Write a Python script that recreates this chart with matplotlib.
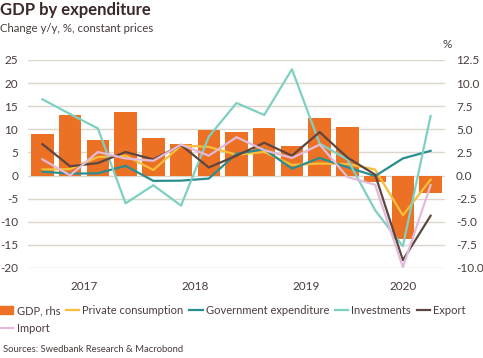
import numpy as np
import matplotlib
matplotlib.use("Agg")
import matplotlib.pyplot as plt
from matplotlib.patches import Patch
from matplotlib.lines import Line2D

plt.rcParams['font.family'] = ['Lato', 'DejaVu Sans']
plt.rcParams['axes.unicode_minus'] = False

# quarterly data, 2017Q1 .. 2020Q3
quarters = list(range(15))
year_labels = ["2017", "2018", "2019", "2020"]
year_pos = [1.5, 5.5, 9.5, 13.0]

gdp_rhs = [4.5, 6.55, 3.8, 6.85, 4.1, 3.4, 4.9, 4.75, 5.1, 3.2, 6.2, 5.25, -0.7, -6.85, -1.9]
private = [1.3, 1.4, 4.0, 4.3, 1.2, 6.5, 6.2, 4.5, 5.1, 2.3, 2.6, 2.5, 1.3, -8.6, -0.9]
government = [0.85, 0.4, 0.5, 2.1, -1.15, -1.1, -0.65, 4.7, 5.7, 1.5, 3.8, 1.8, -0.1, 3.7, 5.35]
investments = [16.5, 13.3, 10.2, -6.0, -2.1, -6.5, 8.4, 15.7, 13.1, 23.0, 6.9, 3.5, -7.5, -15.3, 12.9]
export = [6.8, 2.0, 2.7, 5.1, 3.5, 6.6, 1.75, 4.3, 7.1, 4.3, 9.4, 3.9, 0.2, -18.3, -8.7]
imports = [3.5, 0.05, 5.1, 3.7, 3.2, 6.7, 4.3, 8.3, 5.5, 3.8, 6.7, -0.3, -2.0, -19.8, -2.1]

C_GDP = '#EC7125'
C_PRIV = '#F7BE3A'
C_GOV = '#2A8D8F'
C_INV = '#7ED0C2'
C_EXP = '#5E4640'
C_IMP = '#E2BBD8'
TXT = '#4a3c3c'
GRID = '#ddd6cc'

fig = plt.figure(figsize=(4.83, 3.58), dpi=100)
ax = fig.add_axes([28 / 483, 1 - 268 / 358, 417 / 483, 208 / 358])
ax2 = ax.twinx()

ax2.bar(quarters, gdp_rhs, width=0.81, color=C_GDP, zorder=2)

lw = 1.6
ax.plot(quarters, private, color=C_PRIV, lw=lw, zorder=3)
ax.plot(quarters, government, color=C_GOV, lw=lw, zorder=3)
ax.plot(quarters, investments, color=C_INV, lw=lw, zorder=3)
ax.plot(quarters, export, color=C_EXP, lw=lw, zorder=3)
ax.plot(quarters, imports, color=C_IMP, lw=lw, zorder=3)

# lines above bars
ax.set_zorder(ax2.get_zorder() + 1)
ax.patch.set_visible(False)

ax.set_xlim(-0.52, 14.52)
ax.set_ylim(-20, 25)
ax2.set_ylim(-10, 12.5)
ax.set_yticks(np.arange(-20, 26, 5))
ax2.set_yticks(np.arange(-10, 12.6, 2.5))
ax2.set_yticklabels([f"{v:.1f}" for v in np.arange(-10, 12.6, 2.5)])
ax.set_xticks(year_pos)
ax.set_xticklabels(year_labels)

for a in (ax, ax2):
    for s in a.spines.values():
        s.set_visible(False)
    a.tick_params(length=0, labelsize=8.5, colors=TXT)
ax.tick_params(axis='y', pad=7)
ax2.tick_params(axis='y', pad=8)
ax.tick_params(axis='x', pad=9)

# gridlines drawn on the background axis so they sit behind the bars
for v in np.arange(-20, 26, 5):
    ax2.axhline(v / 2, color=GRID, lw=1, zorder=0)

fig.text(0.0, 1 - 15 / 358, "GDP by expenditure", fontsize=12, fontweight='bold',
         color='#3b2828', ha='left', va='baseline')
fig.text(0.0, 1 - 32 / 358, "Change y/y, %, constant prices", fontsize=8.2,
         color=TXT, ha='left', va='baseline')
fig.text(447 / 483, 1 - 44 / 358, "%", fontsize=8.5, color=TXT, ha='center', va='center')

handles = [
    Patch(color=C_GDP, label="GDP, rhs"),
    Line2D([], [], color=C_IMP, lw=lw, label="Import"),
    Line2D([], [], color=C_PRIV, lw=lw, label="Private consumption"),
    Line2D([], [], color=C_GOV, lw=lw, label="Government expenditure"),
    Line2D([], [], color=C_INV, lw=lw, label="Investments"),
    Line2D([], [], color=C_EXP, lw=lw, label="Export"),
]
leg = fig.legend(handles=handles, ncol=5, loc='upper left',
                 bbox_to_anchor=(0.0, 1 - 305 / 358), frameon=False,
                 fontsize=8.0, handlelength=1.2, handleheight=0.8, handletextpad=0.3,
                 columnspacing=0.5, labelspacing=0.65, borderaxespad=0, borderpad=0)
for t in leg.get_texts():
    t.set_color(TXT)

fig.text(0.006, 1 - 349 / 358, "Sources: Swedbank Research & Macrobond", fontsize=6.8,
         color=TXT, ha='left', va='center')

fig.savefig("out.png", dpi=100)
